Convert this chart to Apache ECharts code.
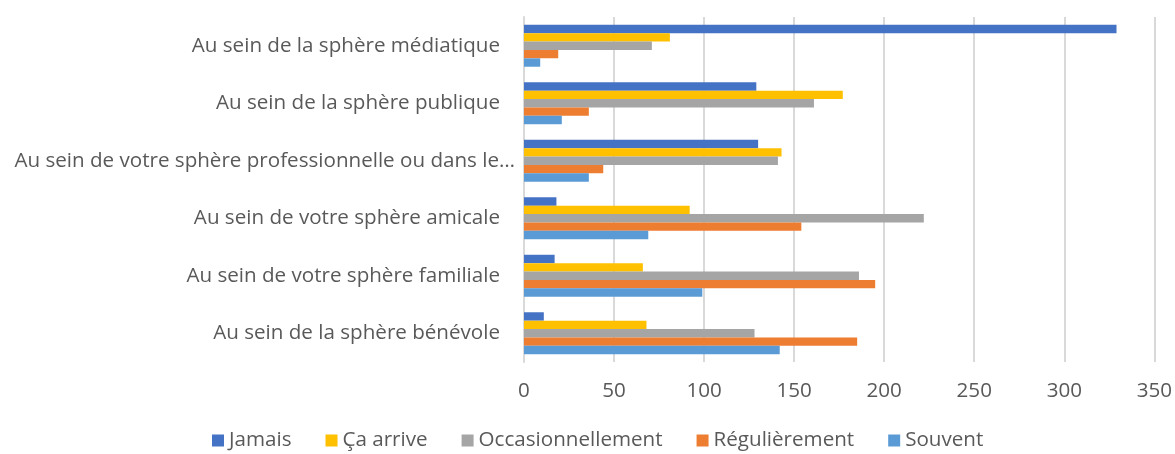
<!DOCTYPE html>
<html>
<head>
<meta charset="utf-8">
<script src="https://cdn.jsdelivr.net/npm/echarts@6/dist/echarts.min.js"></script>
<style>html,body{margin:0;padding:0;background:#fff;}#chart{width:1175px;height:454px;}</style>
</head>
<body>
<div id="chart"></div>
<script>
const categories = [
  "Au sein de la sphère médiatique",
  "Au sein de la sphère publique",
  "Au sein de votre sphère professionnelle ou dans le…",
  "Au sein de votre sphère amicale",
  "Au sein de votre sphère familiale",
  "Au sein de la sphère bénévole"
];
const seriesNames = ["Jamais", "Ça arrive", "Occasionnellement", "Régulièrement", "Souvent"];
const jamais = [329, 129, 130, 18, 17, 11];
const caArrive = [81, 177, 143, 92, 66, 68];
const occasionnellement = [71, 161, 141, 222, 186, 128];
const regulierement = [19, 36, 44, 154, 195, 185];
const souvent = [9, 21, 36, 69, 99, 142];
const xTicks = [0, 50, 100, 150, 200, 250, 300, 350];

const colors = ["#4472C4", "#FFC000", "#A5A5A5", "#ED7D31", "#5B9BD5"];
const values = [jamais, caArrive, occasionnellement, regulierement, souvent];
const FONT = "Open Sans";
const FS = 20.6;

const yData = categories.map(c => c.endsWith('…')
  ? { value: c, textStyle: { padding: [0, -15, 0, 0] } }
  : c);

const chart = echarts.init(document.getElementById('chart'));
chart.setOption({
  animation: false,
  textStyle: { fontFamily: FONT },
  grid: { left: 524, right: 20, top: 17, bottom: 92, containLabel: false },
  legend: {
    top: 430,
    left: 212,
    padding: 0,
    data: seriesNames,
    icon: 'rect',
    itemWidth: 12,
    itemHeight: 12,
    itemGap: 34,
    textStyle: { fontSize: FS, color: '#595959', fontFamily: FONT }
  },
  xAxis: {
    type: 'value',
    min: xTicks[0],
    max: xTicks[xTicks.length - 1],
    interval: xTicks[1] - xTicks[0],
    axisLine: { show: false },
    axisTick: { show: false },
    axisLabel: { fontSize: FS, color: '#595959', margin: 19 },
    splitLine: { lineStyle: { color: '#D9D9D9', width: 2 } }
  },
  yAxis: {
    type: 'category',
    inverse: true,
    data: yData,
    axisLine: { show: true, lineStyle: { color: '#D9D9D9', width: 2 } },
    axisTick: { show: false },
    axisLabel: { fontSize: FS, color: '#595959', margin: 24 }
  },
  series: seriesNames.map((n, i) => ({
    name: n,
    type: 'bar',
    data: values[i],
    barGap: '0%',
    barCategoryGap: '27%',
    itemStyle: { color: colors[i] }
  }))
});
</script>
</body>
</html>
